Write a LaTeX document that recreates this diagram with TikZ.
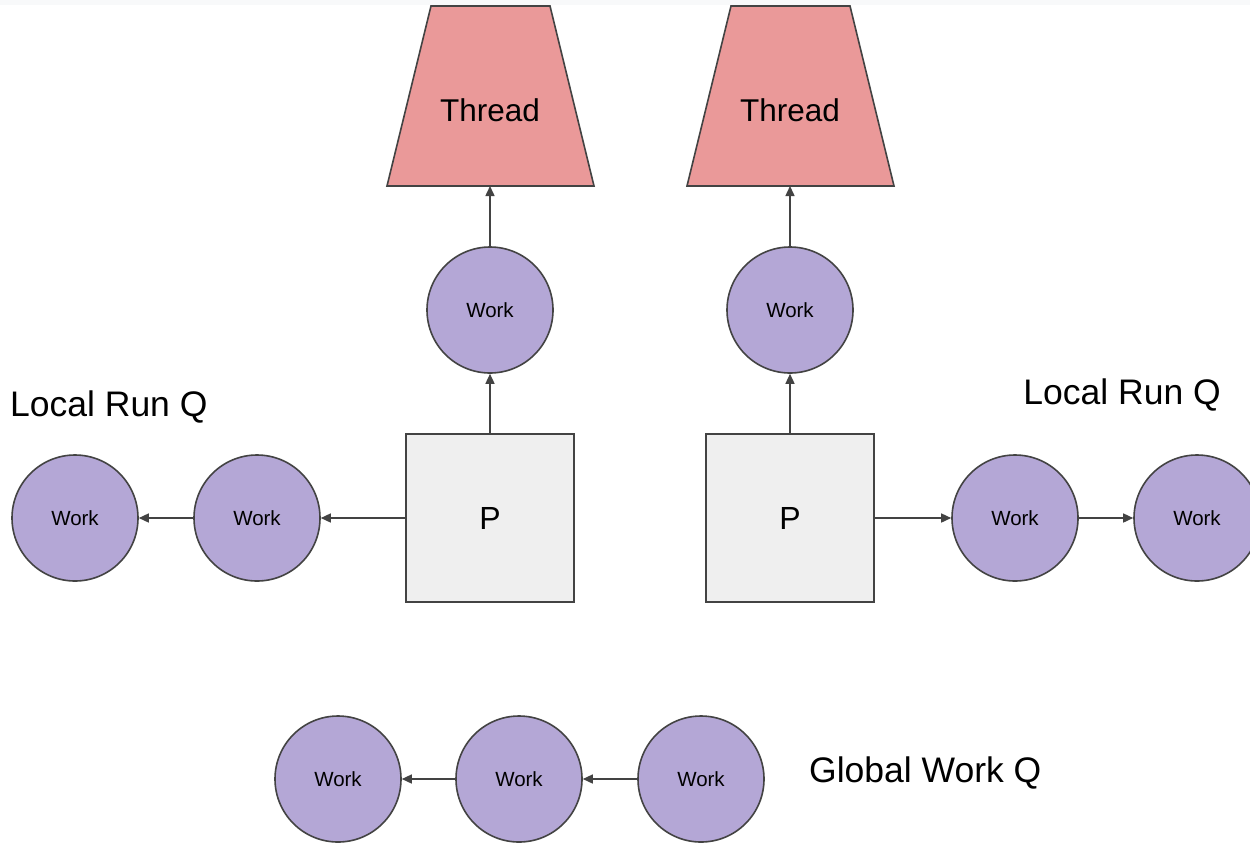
\documentclass[tikz,border=0pt]{standalone}
\usepackage{fontspec}
\setmainfont{Liberation Sans}
\usetikzlibrary{arrows.meta}
\definecolor{edge}{HTML}{434343}
\definecolor{thr}{HTML}{EA9999}
\definecolor{wrk}{HTML}{B4A7D6}
\definecolor{pbox}{HTML}{EFEFEF}
\definecolor{band}{HTML}{F8F9FA}
\tikzset{
  work/.style={circle, draw=edge, line width=1.6pt, fill=wrk, minimum size=126pt, inner sep=0pt, font=\fontsize{20.5}{24}\selectfont},
  pnode/.style={rectangle, draw=edge, line width=1.6pt, fill=pbox, minimum size=168pt, inner sep=0pt, font=\fontsize{32}{38}\selectfont},
  thrpath/.style={draw=edge, line width=1.6pt, fill=thr, line join=miter},
  thrtext/.style={font=\fontsize{31.5}{38}\selectfont, inner sep=0pt},
  lbl/.style={font=\fontsize{35.5}{42}\selectfont, inner sep=0pt},
  conn/.style={draw=edge, line width=1.5pt, -{Triangle[length=10pt,width=9pt]}},
}
\begin{document}
\begin{tikzpicture}[x=1pt,y=-1pt]
\useasboundingbox (0,0) rectangle (1250,844);
\fill[white] (0,0) rectangle (1250,844);
\fill[band] (0,0) rectangle (1250,5);
\begin{scope}
\clip (0,0) rectangle (1250,844);
% threads
\draw[thrpath] (431,6) -- (550,6) -- (594,186) -- (387,186) -- cycle;
\node[thrtext] (t1) at (490,110) {Thread};
\coordinate (t1b) at (490,186);
\draw[thrpath] (731,6) -- (850,6) -- (894,186) -- (687,186) -- cycle;
\node[thrtext] (t2) at (790,110) {Thread};
\coordinate (t2b) at (790,186);
% P boxes
\node[pnode] (p1) at (490,518) {P};
\node[pnode] (p2) at (790,518) {P};
% works above P
\node[work] (w1) at (490,310) {Work};
\node[work] (w2) at (790,310) {Work};
% local run queues
\node[work] (l2) at (257,518) {Work};
\node[work] (l1) at (75,518) {Work};
\node[work] (r1) at (1015,518) {Work};
\node[work] (r2) at (1197,518) {Work};
% global
\node[work] (g1) at (338,779) {Work};
\node[work] (g2) at (519,779) {Work};
\node[work] (g3) at (701,779) {Work};
% labels
\node[lbl, anchor=west] (lab1) at (10,407) {Local Run Q};
\node[lbl, anchor=east] (lab2) at (1221,395) {Local Run Q};
\node[lbl, anchor=west] (lab3) at (809,773) {Global Work Q};
% connectors
\draw[conn] (w1.north) -- (t1b);
\draw[conn] (w2.north) -- (t2b);
\draw[conn] (p1.north) -- (w1.south);
\draw[conn] (p2.north) -- (w2.south);
\draw[conn] (p1.west) -- (l2.east);
\draw[conn] (l2.west) -- (l1.east);
\draw[conn] (p2.east) -- (r1.west);
\draw[conn] (r1.east) -- (r2.west);
\draw[conn] (g3.west) -- (g2.east);
\draw[conn] (g2.west) -- (g1.east);
\end{scope}
\end{tikzpicture}
\end{document}
